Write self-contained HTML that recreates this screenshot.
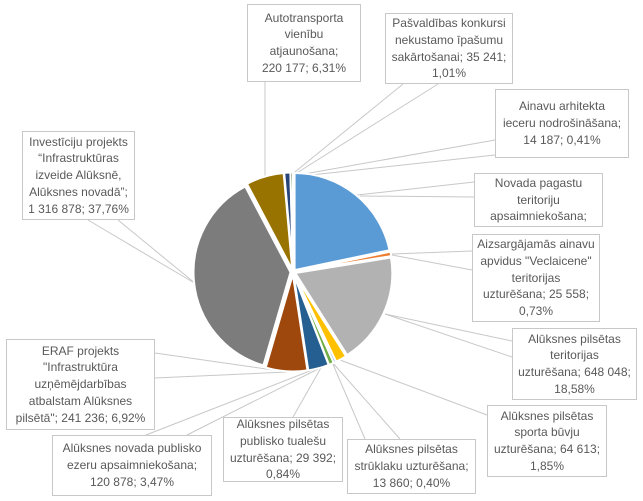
<!DOCTYPE html>
<html><head><meta charset="utf-8">
<style>
html,body{margin:0;padding:0;background:#fff;}
body{width:643px;height:501px;position:relative;overflow:hidden;font-family:"Liberation Sans",sans-serif;}
.b{position:absolute;border:1px solid #c8c8c8;background:#fff;color:#595959;font-size:12px;line-height:16.7px;text-align:center;box-sizing:border-box;display:flex;flex-direction:column;justify-content:center;white-space:nowrap;}
svg{position:absolute;left:0;top:0;}
</style></head><body>
<svg id="s" width="643" height="501" viewBox="0 0 643 501">
<g stroke="#c8c8c8" stroke-width="1" fill="none">
<polyline points="265,82 265,177"/>
<polyline points="403,84 290,176"/>
<polyline points="438,84 292,176"/>
<polyline points="495,140 293,176"/>
<polyline points="495,155 293,177"/>
<polyline points="474,182 357,195"/>
<polyline points="474,197 360,196"/>
<polyline points="472,251 392,254"/>
<polyline points="472,270 392,255"/>
<polyline points="512,341 385,314"/>
<polyline points="512,357 385,314"/>
<polyline points="487,415 340,360"/>
<polyline points="400,439 332,362"/>
<polyline points="365,439 332,362"/>
<polyline points="293,417 322,366"/>
<polyline points="146,435 320,367"/>
<polyline points="187,435 320,368"/>
<polyline points="155,353 287,372"/>
<polyline points="155,378 287,372"/>
<polyline points="88,220 196,284"/>
<polyline points="118,220 196,284"/>
</g>
<g id="pie"></g>
</svg>
<div class="b" style="left:247px;top:4px;width:114px;height:78px">Autotransporta<br>vienību<br>atjaunošana;<br>220 177; 6,31%</div>
<div class="b" style="left:385px;top:13px;width:128px;height:71px">Pašvaldības konkursi<br>nekustamo īpašumu<br>sakārtošanai; 35 241;<br>1,01%</div>
<div class="b" style="left:495px;top:89px;width:134px;height:69px">Ainavu arhitekta<br>ieceru nodrošināšana;<br>14 187; 0,41%</div>
<div class="b" style="left:474px;top:173px;width:129px;height:54px">Novada pagastu<br>teritoriju<br>apsaimniekošana;</div>
<div class="b" style="left:472px;top:234px;width:128px;height:88px">Aizsargājamās ainavu<br>apvidus "Veclaicene"<br>teritorijas<br>uzturēšana; 25 558;<br>0,73%</div>
<div class="b" style="left:512px;top:328px;width:125px;height:72px">Alūksnes pilsētas<br>teritorijas<br>uzturēšana; 648 048;<br>18,58%</div>
<div class="b" style="left:487px;top:405px;width:120px;height:72px">Alūksnes pilsētas<br>sporta būvju<br>uzturēšana; 64 613;<br>1,85%</div>
<div class="b" style="left:347px;top:439px;width:129px;height:55px">Alūksnes pilsētas<br>strūklaku uzturēšana;<br>13 860; 0,40%</div>
<div class="b" style="left:223px;top:417px;width:120px;height:65px">Alūksnes pilsētas<br>publisko tualešu<br>uzturēšana; 29 392;<br>0,84%</div>
<div class="b" style="left:52px;top:435px;width:160px;height:61px">Alūksnes novada publisko<br>ezeru apsaimniekošana;<br>120 878; 3,47%</div>
<div class="b" style="left:6px;top:339px;width:149px;height:91px">ERAF projekts<br>"Infrastruktūra<br>uzņēmējdarbības<br>atbalstam Alūksnes<br>pilsētā"; 241 236; 6,92%</div>
<div class="b" style="left:22px;top:131px;width:113px;height:89px">Investīciju projekts<br>“Infrastruktūras<br>izveide Alūksnē,<br>Alūksnes novadā”;<br>1 316 878; 37,76%</div>
<script>
var vals=[21.72,0.73,18.58,1.85,0.40,0.84,3.47,6.92,37.76,6.31,1.01,0.41];
var cols=["#5B9BD5","#ED7D31","#B2B2B2","#FFC000","#4472C4","#70AD47","#255E91","#9E480E","#7C7C7C","#997300","#264478","#43682B"];
var cx=293,cy=272,r=97,a=-Math.PI/2,g=document.getElementById('pie'),h='';
for(var i=0;i<vals.length;i++){
 var d=vals[i]/100*2*Math.PI,m=a+d/2,ox=2.5*Math.cos(m),oy=2.5*Math.sin(m);
 var x0=cx+ox,y0=cy+oy;
 var x1=x0+r*Math.cos(a),y1=y0+r*Math.sin(a),x2=x0+r*Math.cos(a+d),y2=y0+r*Math.sin(a+d);
 h+='<path d="M'+x0+','+y0+' L'+x1+','+y1+' A'+r+','+r+' 0 '+(d>Math.PI?1:0)+' 1 '+x2+','+y2+' Z" fill="'+cols[i]+'" stroke="#fff" stroke-width="2"/>';
 a+=d;
}
g.innerHTML=h;
</script>
</body></html>
